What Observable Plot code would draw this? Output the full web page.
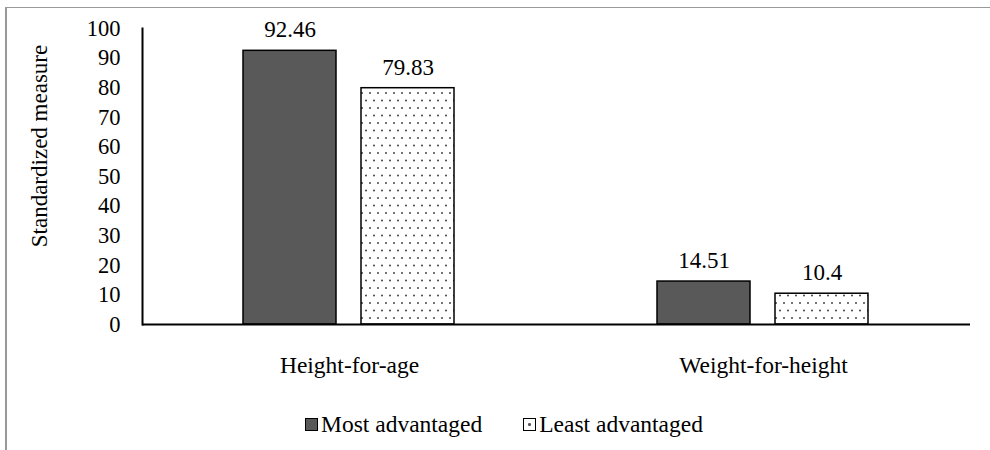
<!DOCTYPE html>
<html>
<head>
<meta charset="utf-8">
<script src="https://cdn.jsdelivr.net/npm/d3@7"></script>
<script src="https://cdn.jsdelivr.net/npm/@observablehq/plot@0.6"></script>
<style>
  body {
    margin: 0;
    width: 990px;
    height: 450px;
    overflow: hidden;
    background: #fff;
    position: relative;
    font-family: "Liberation Serif", "Tinos", "DejaVu Serif", serif;
    color: #000;
  }
  #frame {
    position: absolute;
    left: 5px;
    top: 7px;
    width: 1100px;
    height: 600px;
    border-top: 1.5px solid #999;
    border-left: 2px solid #999;
  }
  #chart { position: absolute; left: 0; top: 0; }
  #ylabel {
    position: absolute;
    left: 40px;
    top: 146px;
    transform: translate(-50%, -50%) rotate(-90deg);
    white-space: nowrap;
    font-size: 23px;
  }
  #legend {
    position: absolute;
    left: 305px;
    top: 411px;
    display: flex;
    align-items: center;
    font-size: 23.5px;
    white-space: nowrap;
  }
  .item { display: flex; align-items: center; margin-right: 41px; }
  .sw { width: 11px; height: 11px; border: 1.5px solid #000; margin-right: 3px; position: relative; }
  .sw.dot::after {
    content: ""; position: absolute; left: 4px; top: 4px; width: 2.5px; height: 2.5px;
    background: #555; border-radius: 50%;
  }
</style>
</head>
<body>
<div id="frame"></div>
<div id="chart"></div>
<div id="ylabel">Standardized measure</div>
<div id="legend"></div>
<script>
// Indicator groups and the two comparison series
const categories = ["Height-for-age", "Weight-for-height"];
const series = ["Most advantaged", "Least advantaged"];
const mostAdvantaged = [92.46, 14.51];
const leastAdvantaged = [79.83, 10.4];
const yTicks = [0, 10, 20, 30, 40, 50, 60, 70, 80, 90, 100];
const seriesFills = ["#595959", "url(#dots)"];

const rows = categories.flatMap((c, i) => [
  {category: c, series: series[0], value: mostAdvantaged[i]},
  {category: c, series: series[1], value: leastAdvantaged[i]}
]);

const font = "'Liberation Serif', 'Tinos', 'DejaVu Serif', serif";

const chart = Plot.plot({
  width: 990,
  height: 395,
  marginLeft: 142,
  marginRight: 20,
  marginTop: 28,
  marginBottom: 71,
  style: {fontFamily: font, fontSize: "22.5px", color: "#000", background: "transparent", overflow: "visible"},
  fx: {domain: categories, padding: 0, label: null, axis: "bottom", tickSize: 0, tickPadding: 32},
  x: {domain: series, paddingInner: 0.21, paddingOuter: 0.845, axis: null},
  y: {domain: [0, 100], ticks: yTicks, label: null, tickSize: 0, tickPadding: 22},
  color: {domain: series, range: seriesFills},
  marks: [
    Plot.barY(rows, {fx: "category", x: "series", y: "value", fill: "series", stroke: "#000", strokeWidth: 1.5}),
    Plot.ruleY([0], {stroke: "#000", strokeWidth: 2}),
    Plot.frame({anchor: "left", fx: categories[0], stroke: "#000", strokeWidth: 2}),
    Plot.text(rows, {fx: "category", x: "series", y: "value", text: d => String(d.value), dy: -21, fill: "#000", fontSize: 23})
  ]
});

// Dotted fill used by the "Least advantaged" bars
const svg = d3.select(chart);
svg.selectAll("text").style("font-family", font);
svg.selectAll("[aria-label='fx-axis tick label'] text").style("font-size", "23.5px");
const pat = svg.insert("defs", ":first-child")
  .append("pattern")
  .attr("id", "dots")
  .attr("patternUnits", "userSpaceOnUse")
  .attr("width", 8)
  .attr("height", 15);
pat.append("rect").attr("width", 8).attr("height", 15).attr("fill", "#fff");
pat.append("circle").attr("cx", 2).attr("cy", 3).attr("r", 0.95).attr("fill", "#3a3a3a");
pat.append("circle").attr("cx", 6).attr("cy", 10.5).attr("r", 0.95).attr("fill", "#3a3a3a");

document.getElementById("chart").appendChild(chart);

// Legend below the plot
const legend = d3.select("#legend");
series.forEach((s, i) => {
  const item = legend.append("div").attr("class", "item");
  item.append("div")
    .attr("class", i === 0 ? "sw" : "sw dot")
    .style("background", i === 0 ? seriesFills[0] : "#fff");
  item.append("span").text(s);
});
</script>
</body>
</html>
